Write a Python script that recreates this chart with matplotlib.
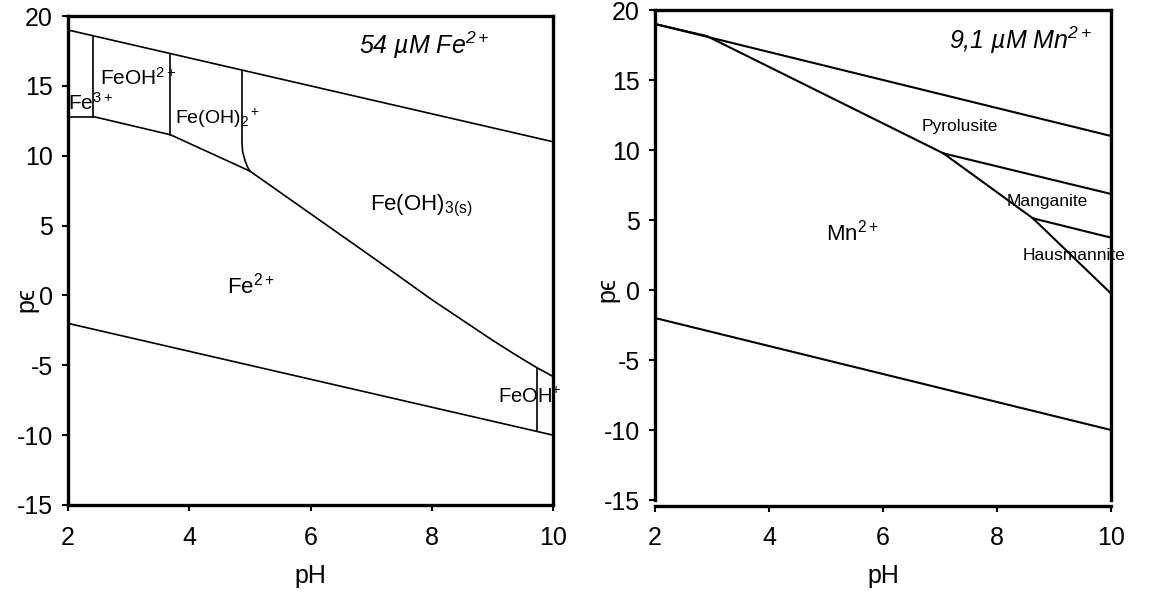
import numpy as np
from matplotlib import pyplot as plt

plt.rcParams['font.family'] = ['Liberation Sans', 'DejaVu Sans']
plt.rcParams['mathtext.fontset'] = 'custom'
plt.rcParams['mathtext.rm'] = 'Liberation Sans'
plt.rcParams['mathtext.it'] = 'Liberation Sans:italic'
plt.rcParams['mathtext.default'] = 'regular'
plt.rcParams['axes.unicode_minus'] = False

# water stability limits (same on both panels)
ph_water = [2, 10]
pe_o2 = [19, 11]
pe_h2 = [-2, -10]

# --- Fe panel boundaries ---
fe3_fe2_ph = [2, 2.42]
fe3_fe2_pe = [12.8, 12.8]
fe3_feoh_ph = [2.42, 2.42]
fe3_feoh_pe = [12.8, 18.58]
feoh_fe2_ph = [2.42, 3.69]
feoh_fe2_pe = [12.8, 11.5]
feoh_feoh2_ph = [3.69, 3.69]
feoh_feoh2_pe = [11.5, 17.31]
feoh2_fe2_ph = [3.69, 5.0]
feoh2_fe2_pe = [11.5, 8.9]
feoh2_solid_ph = [4.87, 4.87, 4.88, 4.92, 4.96, 5.0]
feoh2_solid_pe = [16.13, 11.0, 10.3, 9.65, 9.2, 8.9]
solid_fe2_ph = [5.0, 6.0, 7.0, 8.0, 8.5, 9.0, 9.4, 9.73, 10.0]
solid_fe2_pe = [8.9, 5.85, 2.8, -0.3, -1.75, -3.2, -4.3, -5.16, -5.8]
feohp_ph = [9.73, 9.73]
feohp_pe = [-9.73, -5.16]

# --- Mn panel boundaries ---
pyro_mn_ph = [2.0, 2.91, 7.06]
pyro_mn_pe = [19.0, 18.14, 9.76]
mang_mn_ph = [7.06, 8.63]
mang_mn_pe = [9.76, 5.12]
haus_mn_ph = [8.63, 10.0]
haus_mn_pe = [5.12, -0.25]
pyro_mang_ph = [7.06, 10.0]
pyro_mang_pe = [9.76, 6.86]
mang_haus_ph = [8.63, 10.0]
mang_haus_pe = [5.12, 3.74]

xticks = [2, 4, 6, 8, 10]
yticks = [-15, -10, -5, 0, 5, 10, 15, 20]

W, H = 1171, 597
fig = plt.figure(figsize=(W / 100, H / 100), dpi=100)
ax1 = fig.add_axes([68 / W, 1 - 505 / H, 485 / W, 489 / H])
ax2 = fig.add_axes([655 / W, 1 - 500 / H, 456 / W, 490 / H])

lw1 = 1.2
for ph, pe in [(ph_water, pe_o2), (ph_water, pe_h2), (fe3_fe2_ph, fe3_fe2_pe),
               (fe3_feoh_ph, fe3_feoh_pe), (feoh_fe2_ph, feoh_fe2_pe),
               (feoh_feoh2_ph, feoh_feoh2_pe), (feoh2_fe2_ph, feoh2_fe2_pe),
               (feoh2_solid_ph, feoh2_solid_pe), (solid_fe2_ph, solid_fe2_pe),
               (feohp_ph, feohp_pe)]:
    ax1.plot(ph, pe, color='black', lw=lw1)

lw2 = 1.5
for ph, pe in [(ph_water, pe_o2), (ph_water, pe_h2), (pyro_mn_ph, pyro_mn_pe),
               (mang_mn_ph, mang_mn_pe), (haus_mn_ph, haus_mn_pe),
               (pyro_mang_ph, pyro_mang_pe), (mang_haus_ph, mang_haus_pe)]:
    ax2.plot(ph, pe, color='black', lw=lw2)

ax1.text(2.53, 15.6, r'FeOH$^{2+}$', fontsize=15, va='center', ha='left')
ax1.text(2.0, 13.8, r'Fe$^{3+}$', fontsize=15, va='center', ha='left')
ax1.text(3.77, 12.7, r'Fe(OH)$_2$$^+$', fontsize=14, va='center', ha='left')
ax1.text(7.83, 6.4, r'Fe(OH)$_{3(s)}$', fontsize=16, va='center', ha='center')
ax1.text(5.02, 0.7, r'Fe$^{2+}$', fontsize=16, va='center', ha='center')
ax1.text(9.1, -7.3, r'FeOH$^{+}$', fontsize=14.5, va='center', ha='left')
ax1.text(7.87, 17.9, r'54 µM Fe$^{2+}$', fontsize=18, style='italic',
         va='center', ha='center')

ax2.text(6.67, 11.66, 'Pyrolusite', fontsize=12.5, va='center', ha='left')
ax2.text(8.17, 6.31, 'Manganite', fontsize=12.5, va='center', ha='left')
ax2.text(8.45, 2.5, 'Hausmannite', fontsize=12.5, va='center', ha='left',
         clip_on=False)
ax2.text(5.0, 4.07, r'Mn$^{2+}$', fontsize=16, va='center', ha='left')
ax2.text(7.16, 17.86, r'9,1 µM Mn$^{2+}$', fontsize=18, style='italic',
         va='center', ha='left')

for ax in (ax1, ax2):
    ax.set_xlim(2, 10)
    ax.set_ylim(-15, 20)
    ax.set_xticks(xticks)
    ax.set_yticks(yticks)
    ax.tick_params(direction='out', length=4, width=1.5, labelsize=18)
    ax.tick_params(axis='x', pad=11)
    ax.tick_params(axis='y', pad=7)
    for s in ax.spines.values():
        s.set_linewidth(2.4)
    ax.set_xlabel('pH', fontsize=18, labelpad=10)
    ax.set_ylabel('pϵ', fontsize=18)

ax2.spines['bottom'].set_position(('outward', 4))
ax1.yaxis.set_label_coords(-0.06, 0.42)
ax2.yaxis.set_label_coords(-0.078, 0.43)

fig.savefig('out.png', dpi=100)
